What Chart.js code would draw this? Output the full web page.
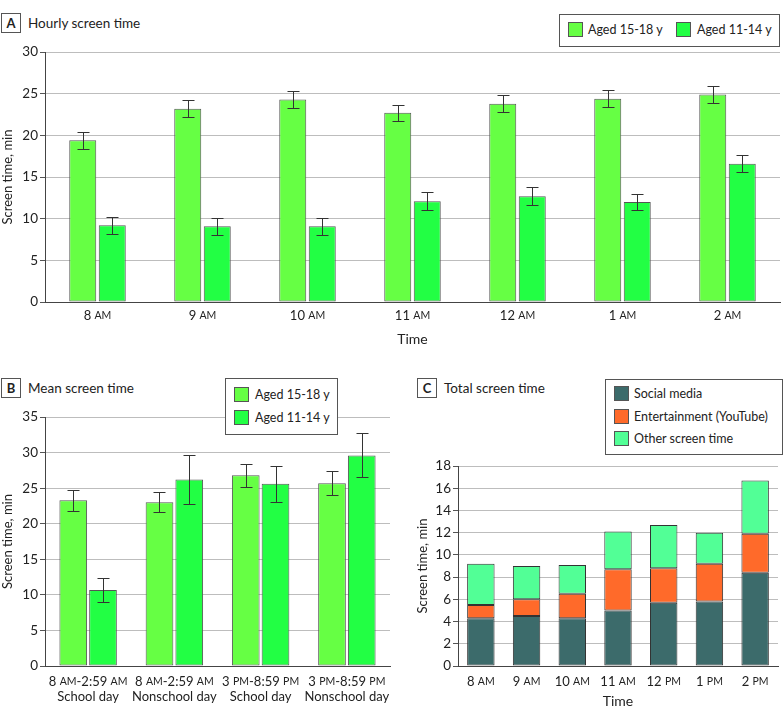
<!DOCTYPE html>
<html>
<head>
<meta charset="utf-8">
<script src="https://cdn.jsdelivr.net/npm/chart.js@4.4.0/dist/chart.umd.min.js"></script>
<style>
  body { margin: 0; background: #fff; width: 783px; height: 722px; position: relative; overflow: hidden; font-family: Lato, sans-serif; color: #222; }
  .panel { position: absolute; }
  .tag { position: absolute; width: 18px; height: 18px; border: 1px solid #555; font-weight: bold; font-size: 13px; line-height: 18px; text-align: center; background: #fff; }
  .ttl { position: absolute; font-size: 13.5px; line-height: 18px; white-space: nowrap; }
  .legend { position: absolute; border: 1px solid #555; background: #fff; z-index: 2; font-size: 12.5px; }
  .legend .it { position: absolute; white-space: nowrap; line-height: 16px; }
  .legend .sw { position: absolute; width: 15px; height: 15px; border: 1px solid #555; box-sizing: border-box; }
</style>
</head>
<body>

<div class="tag" style="left:1px;top:13px">A</div>
<div class="ttl" style="left:28px;top:14px">Hourly screen time</div>
<div class="tag" style="left:1px;top:378px">B</div>
<div class="ttl" style="left:28px;top:379px">Mean screen time</div>
<div class="tag" style="left:417px;top:378px">C</div>
<div class="ttl" style="left:444px;top:379px">Total screen time</div>

<div id="legA" class="legend" style="left:559px;top:14px;width:219px;height:31px"></div>
<div id="legB" class="legend" style="left:225px;top:378px;width:111px;height:55px"></div>
<div id="legC" class="legend" style="left:605px;top:379px;width:176px;height:74px"></div>

<div class="panel" style="left:0;top:40px;width:783px;height:322px"><canvas id="chartA"></canvas></div>
<div class="panel" style="left:0;top:405px;width:392px;height:317px"><canvas id="chartB"></canvas></div>
<div class="panel" style="left:415px;top:455px;width:368px;height:267px"><canvas id="chartC"></canvas></div>

<script>
// panel A: hourly screen time
var hours = ["8 AM", "9 AM", "10 AM", "11 AM", "12 AM", "1 AM", "2 AM"];
var ageGroups = ["Aged 15-18 y", "Aged 11-14 y"];
var hourlyOlder = [19.4, 23.2, 24.3, 22.7, 23.8, 24.4, 24.9];
var hourlyOlderErr = [1.0, 1.0, 1.0, 1.0, 1.0, 1.0, 1.0];
var hourlyYounger = [9.2, 9.1, 9.1, 12.1, 12.7, 12.0, 16.6];
var hourlyYoungerErr = [1.0, 1.0, 1.0, 1.1, 1.1, 1.0, 1.0];

// panel B: mean screen time
var periods = [["8 AM-2:59 AM", "School day"], ["8 AM-2:59 AM", "Nonschool day"],
               ["3 PM-8:59 PM", "School day"], ["3 PM-8:59 PM", "Nonschool day"]];
var meanOlder = [23.3, 23.0, 26.8, 25.7];
var meanOlderErr = [1.5, 1.4, 1.6, 1.7];
var meanYounger = [10.7, 26.2, 25.6, 29.6];
var meanYoungerErr = [1.7, 3.4, 2.5, 3.1];

// panel C: total screen time by type
var hoursC = ["8 AM", "9 AM", "10 AM", "11 AM", "12 PM", "1 PM", "2 PM"];
var screenTypes = ["Social media", "Entertainment (YouTube)", "Other screen time"];
var socialMedia = [4.3, 4.5, 4.3, 5.0, 5.7, 5.8, 8.4];
var entertainment = [1.2, 1.5, 2.2, 3.7, 3.1, 3.4, 3.5];
var otherScreen = [3.7, 3.0, 2.6, 3.4, 3.9, 2.8, 4.8];

var FONT = "Lato, sans-serif";
var olderColor = "#66ff44", youngerColor = "#22ff44";
var typeColors = ["#3c6b6b", "#ff6a2a", "#52ff96"];

// html legends
function legend(id, names, colors, items) {
  var el = document.getElementById(id);
  names.forEach(function (n, i) {
    var p = items[i];
    el.innerHTML += '<div class="sw" style="left:' + p[0] + 'px;top:' + p[1] + 'px;background:' + colors[i] + '"></div>' +
      '<div class="it" style="left:' + p[2] + 'px;top:' + p[1] + 'px">' + n + '</div>';
  });
}
legend("legA", ageGroups, [olderColor, youngerColor], [[8, 7, 28], [116, 7, 137]]);
legend("legB", ageGroups, [olderColor, youngerColor], [[8, 8, 29], [8, 31, 29]]);
legend("legC", screenTypes, typeColors, [[8, 6, 28], [8, 29, 28], [8, 51, 28]]);

// x labels with small caps AM / PM
function drawMixed(ctx, text, cx, y) {
  var parts = text.split(/(AM|PM)/).filter(function (s) { return s.length; });
  var fonts = parts.map(function (s) { return (s === "AM" || s === "PM") ? "10.5px " + FONT : "13px " + FONT; });
  var total = 0;
  parts.forEach(function (s, i) { ctx.font = fonts[i]; total += ctx.measureText(s).width; });
  var x = cx - total / 2;
  parts.forEach(function (s, i) {
    ctx.font = fonts[i];
    ctx.fillText(s, x, y);
    x += ctx.measureText(s).width;
  });
}
var capsLabels = {
  id: "capsLabels",
  afterDraw: function (chart, args, opts) {
    var ctx = chart.ctx, sc = chart.scales.x;
    ctx.save();
    ctx.fillStyle = "#222";
    ctx.textAlign = "left";
    ctx.textBaseline = "middle";
    chart.data.labels.forEach(function (lab, i) {
      var x = sc.getPixelForValue(i);
      [].concat(lab).forEach(function (line, j) {
        drawMixed(ctx, line, x, sc.top + opts.offset + j * 15);
      });
    });
    ctx.restore();
  }
};

var errorBars = {
  id: "errorBars",
  afterDatasetsDraw: function (chart) {
    var ctx = chart.ctx, y = chart.scales.y;
    ctx.save();
    ctx.strokeStyle = "#333";
    ctx.lineWidth = 1;
    chart.data.datasets.forEach(function (ds, d) {
      if (!ds.errors) return;
      chart.getDatasetMeta(d).data.forEach(function (bar, i) {
        var v = ds.data[i], e = ds.errors[i];
        var t = Math.round(y.getPixelForValue(v + e)) + 0.5;
        var b = Math.round(y.getPixelForValue(v - e)) + 0.5;
        var x = Math.round(bar.x) + 0.5;
        ctx.beginPath();
        ctx.moveTo(x, t); ctx.lineTo(x, b);
        ctx.moveTo(x - 6, t); ctx.lineTo(x + 6, t);
        ctx.moveTo(x - 6, b); ctx.lineTo(x + 6, b);
        ctx.stroke();
      });
    });
    ctx.restore();
  }
};

function makeOptions(cfg) {
  return {
    responsive: true,
    maintainAspectRatio: false,
    animation: false,
    layout: { padding: cfg.padding },
    plugins: {
      legend: { display: false },
      tooltip: { enabled: false },
      capsLabels: { offset: cfg.labelOffset }
    },
    scales: {
      x: {
        stacked: !!cfg.stacked,
        grid: { display: false, drawTicks: false },
        border: { display: true, color: "#444" },
        ticks: { color: "rgba(0,0,0,0)", autoSkip: false, maxRotation: 0, font: { family: FONT, size: 12 } },
        title: { display: !!cfg.xTitle, text: cfg.xTitle, color: "#222", font: { family: FONT, size: 14 }, padding: { top: 0, bottom: cfg.xTitlePad } },
        afterFit: function (s) { s.height = cfg.xHeight; }
      },
      y: {
        stacked: !!cfg.stacked,
        min: 0, max: cfg.yMax,
        ticks: { stepSize: cfg.yStep, color: "#222", padding: 2, font: { family: FONT, size: 13.5 } },
        grid: { color: "#bdbdbd", tickColor: "#555", tickLength: 5 },
        border: { display: true, color: "#444" },
        title: { display: true, text: "Screen time, min", color: "#222", font: { family: FONT, size: 13 }, padding: 0 },
        afterFit: function (s) { s.width = cfg.yWidth; }
      }
    }
  };
}

function barSet(label, data, color, errors) {
  var ds = { label: label, data: data, backgroundColor: color, borderColor: "#555", borderWidth: 1, borderSkipped: false };
  if (errors) ds.errors = errors;
  return ds;
}

// Panel A
var dataA = {
  labels: hours,
  datasets: [
    barSet(ageGroups[0], hourlyOlder, olderColor, hourlyOlderErr),
    barSet(ageGroups[1], hourlyYounger, youngerColor, hourlyYoungerErr)
  ]
};
dataA.datasets.forEach(function (d) { d.categoryPercentage = 0.562; d.barPercentage = 0.915; });
new Chart(document.getElementById("chartA"), {
  type: "bar",
  data: dataA,
  options: makeOptions({ padding: { top: 12, right: 3, left: 0, bottom: 0 }, yMax: 30, yStep: 5, yWidth: 45, xHeight: 60, xTitle: "Time", xTitlePad: 14, labelOffset: 14 }),
  plugins: [errorBars, capsLabels]
});

// Panel B
var dataB = {
  labels: periods,
  datasets: [
    barSet(ageGroups[0], meanOlder, olderColor, meanOlderErr),
    barSet(ageGroups[1], meanYounger, youngerColor, meanYoungerErr)
  ]
};
dataB.datasets.forEach(function (d) { d.categoryPercentage = 0.69; d.barPercentage = 0.93; });
new Chart(document.getElementById("chartB"), {
  type: "bar",
  data: dataB,
  options: makeOptions({ padding: { top: 12, right: 2, left: 0, bottom: 0 }, yMax: 35, yStep: 5, yWidth: 45, xHeight: 56, labelOffset: 16 }),
  plugins: [errorBars, capsLabels]
});

// Panel C
var dataC = {
  labels: hoursC,
  datasets: [
    barSet(screenTypes[0], socialMedia, typeColors[0]),
    barSet(screenTypes[1], entertainment, typeColors[1]),
    barSet(screenTypes[2], otherScreen, typeColors[2])
  ]
};
dataC.datasets.forEach(function (d) { d.categoryPercentage = 1; d.barPercentage = 0.6; d.borderColor = "#333"; });
new Chart(document.getElementById("chartC"), {
  type: "bar",
  data: dataC,
  options: makeOptions({ stacked: true, padding: { top: 11, right: 5, left: 0, bottom: 0 }, yMax: 18, yStep: 2, yWidth: 43, xHeight: 56, xTitle: "Time", xTitlePad: 12, labelOffset: 16 }),
  plugins: [capsLabels]
});
</script>
</body>
</html>
